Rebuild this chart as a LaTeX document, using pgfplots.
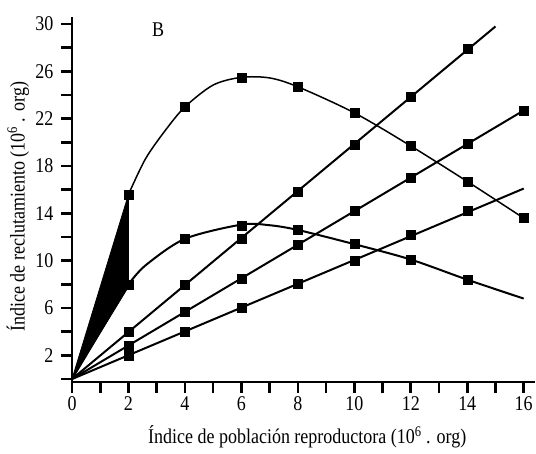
\documentclass[border=0pt]{standalone}
\usepackage{fontspec}
\setmainfont{Liberation Serif}[FakeStretch=0.86]
\usepackage{pgfplots}
\pgfplotsset{compat=1.18}

% Stock-recruitment data (10^6 org)
\pgfplotstableread{
x y
2 15.6
2.6 18.6
3.3 21.0
4 23.0
5 24.85
6 25.5
7 25.45
8 24.7
10 22.5
12 19.7
14 16.7
16 13.6
}\rickerhigh
\pgfplotstableread{
x y
2 8.0
2.6 9.6
4 11.85
6 13.05
7 13.0
8 12.6
10 11.4
12 10.1
14 8.4
16 6.8
}\rickerlow

\begin{document}
\begin{tikzpicture}
\useasboundingbox (0,0) rectangle (536bp,454bp);
\begin{axis}[
  at={(72bp,72bp)}, anchor=south west,
  scale only axis, width=463bp, height=365bp,
  xmin=0, xmax=16.4, ymin=-0.25, ymax=30.6,
  axis x line=bottom, axis y line=left,
  axis line style={-, line width=2.6bp},
  xtick={0,2,...,16}, minor xtick={1,3,...,15},
  ytick={2,6,...,30}, minor ytick={0,4,...,28},
  tick align=outside,
  major tick length=11bp, minor tick length=11bp,
  every tick/.style={black, line width=2.6bp},
  minor tick style={black, line width=2.6bp},
  tick label style={font=\fontsize{21}{21}\selectfont},
  yticklabel style={xshift=-4bp},
  /pgf/number format/assume math mode=true,
  xlabel={Índice de población reproductora (10\textsuperscript{6} . org)},
  ylabel={Índice de reclutamiento (10\textsuperscript{6} . org)},
  label style={font=\fontsize{21}{21}\selectfont},
  xlabel style={at={(axis description cs:0.508,-0.151)}, anchor=center},
  ylabel style={at={(axis description cs:-0.117,0.48)}, anchor=center, rotate=0},
  clip=false,
]
% dark wedge between the two curves near the origin
\addplot[fill=black, draw=black, line width=0.8bp] coordinates {(0,0) (2,15.6) (2,7.8) (0,0)};

% high Ricker curve
\addplot[black, line width=1.5bp, smooth, tension=0.5] table[x=x,y=y] {\rickerhigh};
\addplot[black, only marks, mark=square*, mark size=4.5bp]
  coordinates {(2,15.6) (4,23.0) (6,25.5) (8,24.7) (10,22.5) (12,19.7) (14,16.7) (16,13.6)};

% low Ricker curve
\addplot[black, line width=2bp] coordinates {(0,0) (2,8.0)};
\addplot[black, line width=2bp, smooth, tension=0.5] table[x=x,y=y] {\rickerlow};
\addplot[black, only marks, mark=square*, mark size=4.5bp]
  coordinates {(2,8.0) (4,11.85) (6,13.0) (8,12.6) (10,11.4) (12,10.1) (14,8.4)};

% replacement lines
\addplot[black, line width=2bp] coordinates {(0,0) (15,29.8)};
\addplot[black, only marks, mark=square*, mark size=4.5bp]
  coordinates {(2,4.0) (4,8.0) (6,11.9) (8,15.8) (10,19.8) (12,23.9) (14,27.9)};

\addplot[black, line width=2bp] coordinates {(0,0) (16,22.7)};
\addplot[black, only marks, mark=square*, mark size=4.5bp]
  coordinates {(2,2.85) (4,5.7) (6,8.5) (8,11.35) (10,14.2) (12,17.0) (14,19.9) (16,22.7)};

\addplot[black, line width=2bp] coordinates {(0,0) (16,16.1)};
\addplot[black, only marks, mark=square*, mark size=4.5bp]
  coordinates {(2,2.0) (4,4.0) (6,6.0) (8,8.1) (10,10.0) (12,12.2) (14,14.2)};

\node[font=\fontsize{21}{21}\selectfont] at (axis cs:3.05,29.5) {B};
\end{axis}
\end{tikzpicture}
\end{document}
